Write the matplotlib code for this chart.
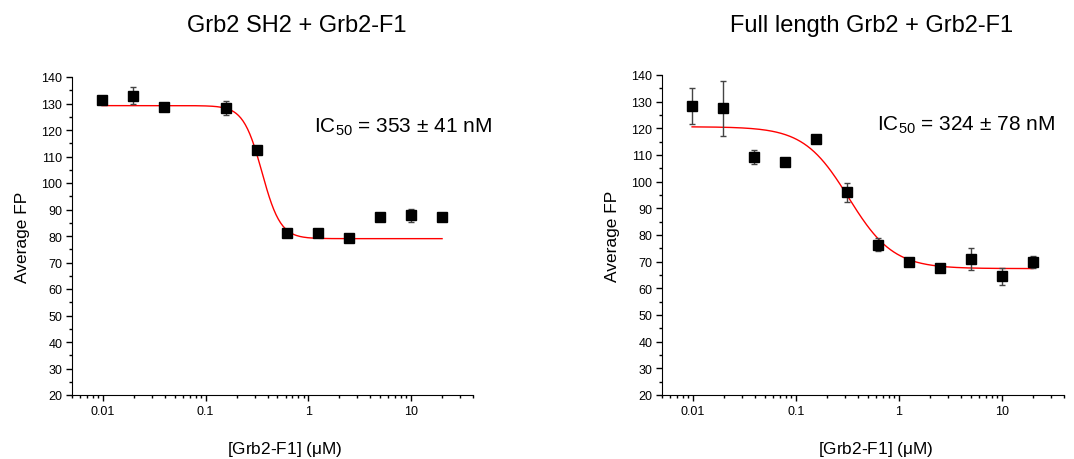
"""Grb2 FP competition curves: SH2 domain vs full-length Grb2 titrated with Grb2-F1."""
import numpy as np
import matplotlib
matplotlib.use("Agg")
import matplotlib.pyplot as plt
from matplotlib.ticker import LogLocator, FixedLocator, MultipleLocator, NullFormatter

plt.rcParams["font.family"] = ["Liberation Sans", "DejaVu Sans"]
plt.rcParams["mathtext.fontset"] = "custom"
plt.rcParams["mathtext.rm"] = "Liberation Sans"
plt.rcParams["mathtext.it"] = "Liberation Sans"

# ---------------------------------------------------------------- data
# left panel: Grb2 SH2 + Grb2-F1
sh2_conc = [0.0098, 0.0195, 0.039, 0.156, 0.3125, 0.625, 1.25, 2.5, 5, 10, 20]
sh2_fp = [131.3, 133.0, 128.8, 128.3, 112.3, 81.2, 81.2, 79.1, 87.2, 87.8, 87.2]
sh2_err = [0.8, 3.2, 0.8, 2.8, 0.8, 0.9, 1.2, 0.6, 1.2, 2.5, 0.8]
sh2_fit = dict(top=129.2, bottom=79.0, ic50=0.353, hill=4.8)

# right panel: full length Grb2 + Grb2-F1
fl_conc = [0.0098, 0.0195, 0.039, 0.078, 0.156, 0.3125, 0.625, 1.25, 2.5, 5, 10, 20]
fl_fp = [128.5, 127.5, 109.3, 107.3, 116.0, 96.0, 76.4, 69.9, 67.6, 71.0, 64.5, 69.9]
fl_err = [6.8, 10.2, 2.5, 0.8, 0.9, 3.6, 2.5, 1.0, 1.5, 4.2, 3.2, 2.2]
fl_fit = dict(top=120.6, bottom=67.4, ic50=0.324, hill=2.0)

titles = ["Grb2 SH2 + Grb2-F1", "Full length Grb2 + Grb2-F1"]
ic50_labels = [r"IC$_{\mathrm{50}}$ = 353 ± 41 nM", r"IC$_{\mathrm{50}}$ = 324 ± 78 nM"]


def logistic(x, top, bottom, ic50, hill):
    return bottom + (top - bottom) / (1 + (x / ic50) ** hill)


W, H = 1074, 460
fig = plt.figure(figsize=(W / 100, H / 100), dpi=100)
axes = [fig.add_axes([72 / W, 64 / H, 401 / W, 318 / H]),
        fig.add_axes([662 / W, 64 / H, 402 / W, 320 / H])]
panels = [(sh2_conc, sh2_fp, sh2_err, sh2_fit), (fl_conc, fl_fp, fl_err, fl_fit)]
title_x = [297, 872]
label_x = [1.047, 0.977]

for i, (ax, (c, fp, err, fit)) in enumerate(zip(axes, panels)):
    xx = np.logspace(np.log10(c[0]), np.log10(c[-1]), 300)
    ax.plot(xx, logistic(xx, **fit), color="red", lw=1.0, zorder=2)
    ax.errorbar(c, fp, yerr=err, fmt="s", color="black", ms=6.5,
                ecolor="#444444", elinewidth=1.0, capsize=2.5, capthick=1.0,
                zorder=3)
    ax.set_xscale("log")
    ax.set_xlim(0.005, 40)
    ax.set_ylim(20, 140)
    ax.spines["top"].set_visible(False)
    ax.spines["right"].set_visible(False)
    ax.xaxis.set_major_locator(FixedLocator([0.01, 0.1, 1, 10]))
    ax.set_xticklabels(["0.01", "0.1", "1", "10"])
    ax.xaxis.set_minor_locator(LogLocator(base=10, subs=np.arange(2, 10)))
    ax.xaxis.set_minor_formatter(NullFormatter())
    ax.yaxis.set_major_locator(MultipleLocator(10))
    ax.yaxis.set_minor_locator(MultipleLocator(5))
    ax.tick_params(which="major", direction="out", length=4, width=1,
                   labelsize=9, pad=3)
    ax.tick_params(which="minor", direction="out", length=2, width=1)
    ax.set_ylabel("Average FP", fontsize=12.5, labelpad=8)
    ax.set_xlabel(r"[Grb2-F1] ($\mu$M)", fontsize=12.4)
    ax.xaxis.set_label_coords(0.531, -0.138)
    ax.text(label_x[i], 0.845, ic50_labels[i], transform=ax.transAxes,
            ha="right", va="center", fontsize=15)
    fig.text(title_x[i] / W, 1 - 32 / H, titles[i], ha="center",
             va="baseline", fontsize=17)

fig.savefig("out.png", dpi=100)
